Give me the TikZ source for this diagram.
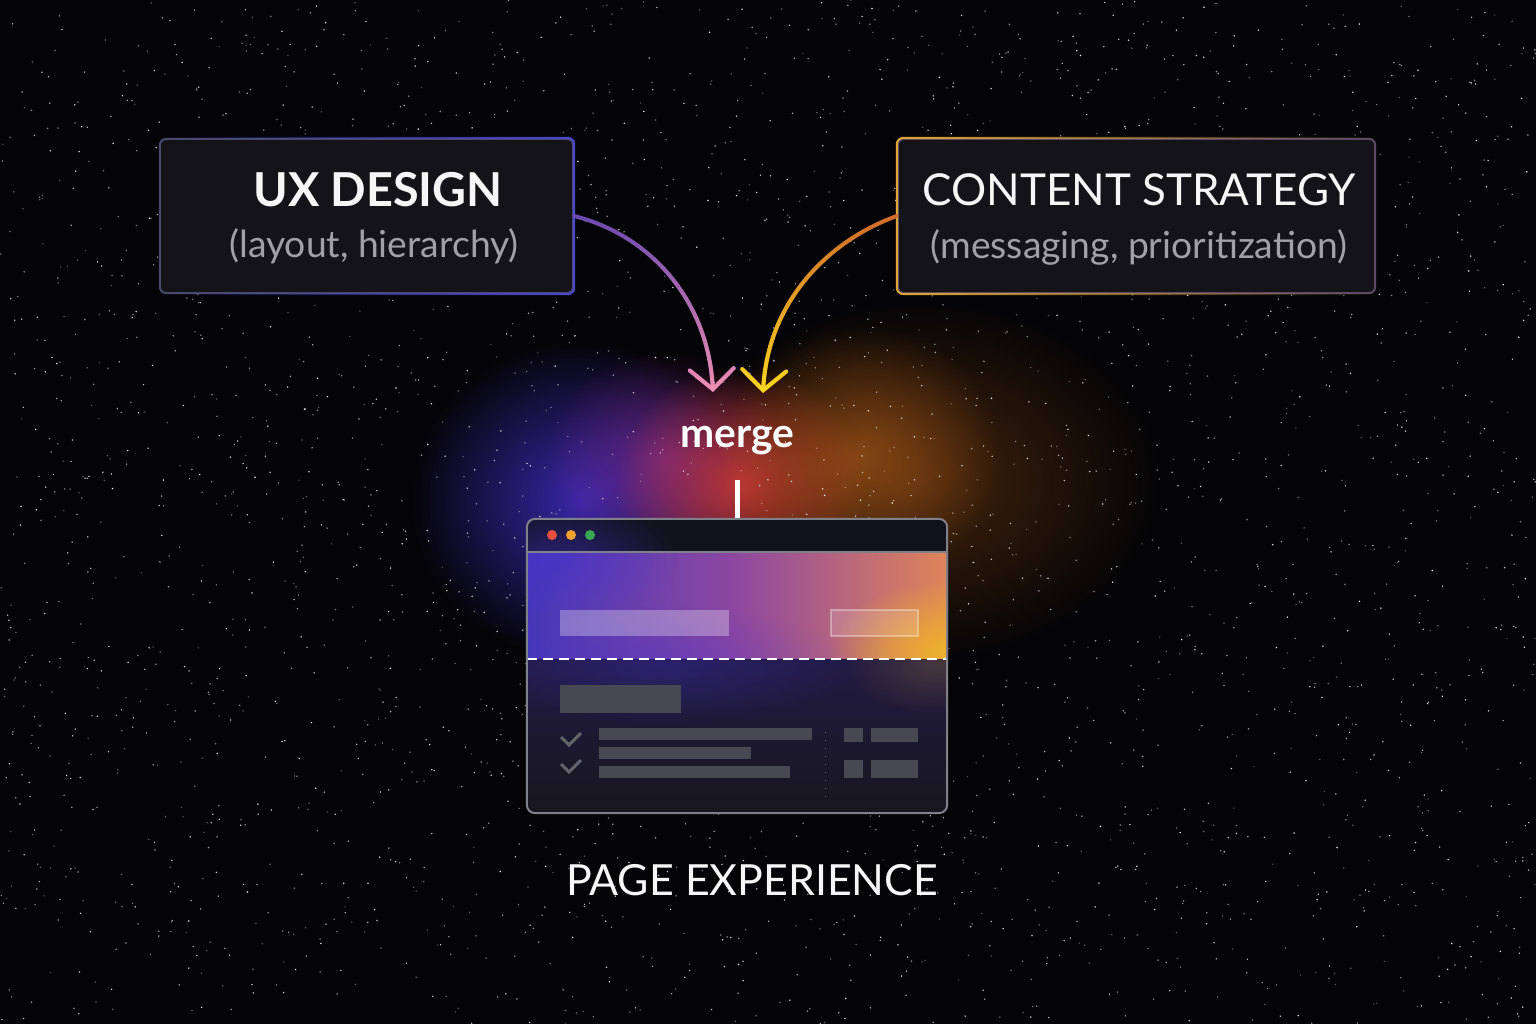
\documentclass[tikz,border=0pt]{standalone}
\usepackage{fontspec}
\setmainfont{Lato}
\usetikzlibrary{arrows.meta,fadings,calc}
\definecolor{bg}{HTML}{040406}
\definecolor{cardfill}{HTML}{141418}
\definecolor{uxline}{HTML}{4A4870}
\definecolor{uxblue}{HTML}{4A4AD0}
\definecolor{csline}{HTML}{5E4A66}
\definecolor{csgold}{HTML}{E0A838}
\definecolor{titletext}{HTML}{F6F6F6}
\definecolor{subtext}{HTML}{A0A0A6}
\definecolor{uxtop}{HTML}{6A48B0}
\definecolor{uxtip}{HTML}{F490B0}
\definecolor{cstop}{HTML}{D06A2C}
\definecolor{cstip}{HTML}{FADA20}
\definecolor{glowblue}{HTML}{4430D0}
\definecolor{glowred}{HTML}{E8403A}
\definecolor{glowviolet}{HTML}{9A30A0}
\definecolor{gloworange}{HTML}{D8701C}
\definecolor{barfill}{HTML}{12121C}
\definecolor{frame}{HTML}{80808A}
\definecolor{heroA}{HTML}{4638B8}
\definecolor{heroB}{HTML}{8E48A0}
\definecolor{heroC}{HTML}{E0845A}
\definecolor{heroY}{HTML}{F0B828}
\definecolor{lowtop}{HTML}{221B44}
\definecolor{lowbot}{HTML}{17161D}
\definecolor{block}{HTML}{484852}
\definecolor{dotred}{HTML}{E8503F}
\definecolor{dotamber}{HTML}{F0A030}
\definecolor{dotgreen}{HTML}{38A850}
\tikzfading[name=glowfade, inner color=transparent!0, outer color=transparent!100]
\tikzset{
  card/.style={draw=#1, fill=cardfill, line width=0.02cm, rounded corners=0.06cm,
    minimum height=1.54cm},
  title/.style={text=titletext, font=\fontsize{12.5}{15}\selectfont},
  sub/.style={text=subtext, font=\fontsize{10.6}{13}\selectfont},
  flow/.style={line width=0.04cm, line cap=round,
    -{Straight Barb[length=0.2cm, width=0.44cm, line cap=round]}},
  glow/.style={fill=#1, path fading=glowfade},
  stem/.style={draw=white, line width=0.05cm},
  window/.style={draw=frame, line width=0.02cm, rounded corners=0.08cm,
    minimum width=4.2cm, minimum height=2.94cm},
  blk/.style={fill=block},
  tick/.style={draw=block!85!white, line width=0.03cm},
  wdot/.style={circle, fill=#1, inner sep=0pt, minimum size=0.1cm},
}

\begin{document}
\begin{tikzpicture}[x=0.01cm,y=-0.01cm]
  \useasboundingbox (0,0) rectangle (1536,1024);
  \fill[bg] (0,0) rectangle (1536,1024);

  % coloured haze behind the merge point
  \fill[glow=gloworange, opacity=0.3] (920,480) ellipse (240 and 180);
  \fill[glow=glowblue, opacity=0.8] (580,500) ellipse (170 and 160);
  \fill[glow=glowviolet, opacity=0.55] (665,460) ellipse (120 and 110);
  \fill[glow=glowred, opacity=0.75] (740,485) ellipse (125 and 120);
  \fill[glow=gloworange, opacity=0.5] (860,455) ellipse (140 and 130);

  % star dust
  \pgfmathsetseed{11}
  \foreach \i in {1,...,3200}{
    \pgfmathsetmacro{\sx}{rnd*1536}
    \pgfmathsetmacro{\sy}{rnd*1024}
    \pgfmathsetmacro{\so}{0.3+0.65*rnd}
    \fill[white, opacity=\so] (\sx,\sy) circle (0.8);
  }

  % the two inputs
  \node[card=uxline, minimum width=4.13cm] (uxbox) at (366.5,216) {};
  \draw[uxblue, line width=0.02cm, rounded corners=0.06cm, path fading=west]
    (uxbox.south west) rectangle (uxbox.north east);
  \node[title, font=\bfseries\fontsize{13.3}{15}\selectfont] (uxtitle) at (378,190) {UX DESIGN};
  \node[sub] (uxsub) at (374,246) {(layout, hierarchy)};

  \node[card=csline, minimum width=4.77cm] (csbox) at (1136.5,216) {};
  \draw[csgold, line width=0.02cm, rounded corners=0.06cm, path fading=east]
    (csbox.south west) rectangle (csbox.north east);
  \node[title] (cstitle) at (1139,190) {CONTENT STRATEGY};
  \node[sub] (cssub) at (1139,247) {(messaging, prioritization)};

  \coordinate (uxend) at (713,392);
  \coordinate (csend) at (763,393);

  \draw[flow, uxtop] (uxbox.east) .. controls (650,235) and (708,300) .. (uxend);
  \draw[flow, uxtip, path fading=north] (uxbox.east) .. controls (650,235) and (708,300) .. (uxend);
  \draw[flow, cstop] (csbox.west) .. controls (830,240) and (768,300) .. (csend);
  \draw[flow, cstip, path fading=north] (csbox.west) .. controls (830,240) and (768,300) .. (csend);

  \node[text=white, font=\bfseries\fontsize{11.6}{14}\selectfont] (merge) at (737,441) {merge};

  % browser mock-up
  \begin{scope}
    \clip[rounded corners=0.08cm] (527,519) rectangle (947,813);
    \fill[barfill] (527,519) rectangle (947,552);
    \shade[left color=heroA, right color=heroC, middle color=heroB] (527,552) rectangle (947,659);
    \fill[glow=heroY, opacity=0.9] (950,650) ellipse (120 and 70);
    \fill[glow=glowblue, opacity=0.5] (560,560) ellipse (120 and 60);
    \shade[top color=lowtop, bottom color=lowbot] (527,659) rectangle (947,813);
    \fill[glow=glowblue, opacity=0.3] (660,665) ellipse (200 and 60);
    \fill[glow=heroY, opacity=0.18] (935,665) ellipse (90 and 50);
  \end{scope}
  \draw[frame, line width=0.015cm] (527,552) -- (947,552);
  \node[wdot=dotred] (d1) at (552,535) {};
  \node[wdot=dotamber] (d2) at (571,535) {};
  \node[wdot=dotgreen] (d3) at (590,535) {};

  \fill[white, opacity=0.3] (560,610) rectangle (729,636);
  \fill[white, opacity=0.15] (831,610) rectangle (918,636);
  \draw[white, opacity=0.35, line width=0.015cm] (831,610) rectangle (918,636);
  \draw[white, line width=0.025cm, dash pattern=on 0.1cm off 0.06cm] (527,659) -- (947,659);

  \fill[blk] (560,685) rectangle (681,713);
  \fill[blk] (599,728) rectangle (812,740);
  \fill[blk] (599,747) rectangle (751,759);
  \fill[blk] (599,766) rectangle (790,778);
  \draw[tick] (561,737) -- (569,745) -- (581,733);
  \draw[tick] (561,764) -- (569,772) -- (581,760);
  \draw[block!80!white, line width=0.01cm, dotted] (825,732) -- (825,800);
  \fill[blk] (844,728) rectangle (863,742);
  \fill[blk] (871,728) rectangle (918,742);
  \fill[blk] (844,760) rectangle (863,778);
  \fill[blk] (871,760) rectangle (918,778);

  \node[window] (page) at (737,666) {};
  \draw[stem, shorten <=0.12cm] (merge.south) -- (page.north);

  \node[title, font=\fontsize{12.2}{15}\selectfont] (pagelabel) at (752,880) {PAGE EXPERIENCE};
\end{tikzpicture}
\end{document}
